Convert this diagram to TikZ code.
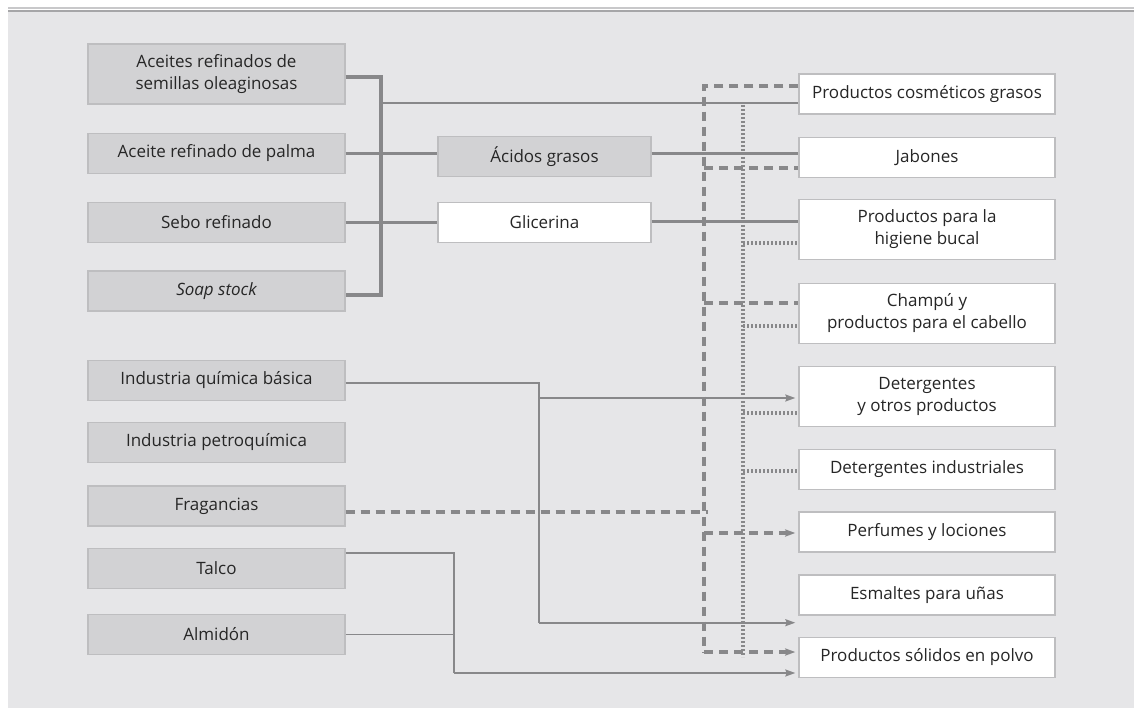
\documentclass[tikz,border=0pt]{standalone}
\usepackage{fontspec}
\setmainfont{Open Sans}
\usetikzlibrary{arrows.meta}
\definecolor{panel}{HTML}{E6E6E8}
\definecolor{boxgray}{HTML}{D2D2D4}
\definecolor{boxline}{HTML}{BEBEC0}
\definecolor{wire}{HTML}{88888A}
\definecolor{ink}{HTML}{262626}
\definecolor{rulelight}{HTML}{C8C8CA}
\definecolor{ruledark}{HTML}{A6A6A8}
\tikzset{
  base/.style={draw=boxline, line width=1.4pt, minimum width=257pt, minimum height=40pt,
    inner sep=0pt, align=center, text=ink, font=\fontsize{17}{22}\selectfont},
  srcbox/.style={base, fill=boxgray},
  midbox/.style={base, minimum width=213pt},
  dstbox/.style={base, fill=white, minimum width=256pt},
  twoline/.style={minimum height=60pt},
  heavy/.style={draw=wire, line width=3.6pt},
  feed/.style={draw=wire, line width=2.6pt},
  thin/.style={draw=wire, line width=1.8pt},
  dashline/.style={draw=wire, line width=3.2pt, dash pattern=on 9pt off 6pt},
  dotline/.style={draw=wire, line width=3.4pt, dash pattern=on 2.2pt off 1.8pt},
  tip/.style={-{Stealth[length=10pt,width=7pt,inset=1.5pt]}, shorten >=3pt},
}
\begin{document}
\begin{tikzpicture}[x=1pt,y=-1pt]
\useasboundingbox (0,0) rectangle (1134,708);
% panel and top rules
\fill[panel] (8,12.5) rectangle (1134,708);
\draw[rulelight, line width=1.5pt] (8,8) -- (1134,8);
\draw[ruledark, line width=2.4pt] (8,11) -- (1134,11);

% raw materials
\node[srcbox, twoline] (L1) at (216.5,74) {Aceites refinados de\\semillas oleaginosas};
\node[srcbox] (L2) at (216.5,153.5) {Aceite refinado de palma};
\node[srcbox] (L3) at (216.5,222.5) {Sebo refinado};
\node[srcbox] (L4) at (216.5,291) {\itshape Soap stock};
\node[srcbox] (L5) at (216.5,380.5) {Industria química básica};
\node[srcbox] (L6) at (216.5,442.5) {Industria petroquímica};
\node[srcbox] (L7) at (216.5,506) {Fragancias};
\node[srcbox] (L8) at (216.5,568.5) {Talco};
\node[srcbox] (L9) at (216.5,634.5) {Almidón};

% intermediates
\node[midbox, fill=boxgray] (Ac) at (544.5,156.5) {Ácidos grasos};
\node[midbox, fill=white] (Gl) at (544.5,222.5) {Glicerina};

% products
\node[dstbox] (R1) at (927,94) {Productos cosméticos grasos};
\node[dstbox] (R2) at (927,157.5) {Jabones};
\node[dstbox, twoline] (R3) at (927,229.5) {Productos para la\\higiene bucal};
\node[dstbox, twoline] (R4) at (927,313.5) {Champú y\\productos para el cabello};
\node[dstbox, twoline] (R5) at (927,396.5) {Detergentes\\y otros productos};
\node[dstbox] (R6) at (927,469.5) {Detergentes industriales};
\node[dstbox] (R7) at (927,532) {Perfumes y lociones};
\node[dstbox] (R8) at (927,595) {Esmaltes para uñas};
\node[dstbox] (R9) at (927,657.5) {Productos sólidos en polvo};

% junction points
\coordinate (busT) at (381,77);
\coordinate (busB) at (381,295);
\coordinate (dashT) at (704,86);
\coordinate (dashB) at (704,652);
\coordinate (dotT) at (743,105);
\coordinate (dotB) at (743,657);
\coordinate (chemX) at (539,383);
\coordinate (powX) at (454,553);

% fats and oils
\draw[heavy] ([yshift=-3pt]L1.east) -- (busT) -- (busB) -- ([yshift=-4pt]L4.east);
\draw[feed] (L2.east) -- (L2.east -| busT);
\draw[feed] (L3.east) -- (L3.east -| busT);
\draw[feed] ([yshift=-9pt]R1.west -| busT) -- ([yshift=-9pt]R1.west);
\draw[feed] (L2.east -| busT) -- (L2.east -| Ac.west);
\draw[feed] (L2.east -| Ac.east) -- (L2.east -| R2.west);
\draw[feed] (L3.east -| busT) -- (Gl.west);
\draw[feed] ([yshift=1pt]Gl.east) -- ([yshift=1pt]Gl.east -| R3.west);

% dashed distribution
\draw[dashline] (dashT -| R1.west) -- (dashT) -- (dashB);
\draw[dashline] ([yshift=-10.5pt]R2.west -| dashT) -- ([yshift=-10.5pt]R2.west);
\draw[dashline] ([yshift=10.5pt]R4.west -| dashT) -- ([yshift=10.5pt]R4.west);
\draw[dashline] ([yshift=-6pt]L7.east) -- ([yshift=-6pt,xshift=4pt]L7.east -| dashT);
\draw[dashline, tip] ([yshift=-1pt]R7.west -| dashT) -- ([yshift=-1pt]R7.west);
\draw[dashline, tip] (dashB) -- (dashB -| R9.west);

% dotted distribution
\draw[dotline] (dotT) -- (dotB);
\draw[dotline] ([yshift=-13.5pt]R3.west -| dotT) -- ([yshift=-13.5pt]R3.west);
\draw[dotline] ([yshift=-12.5pt]R4.west -| dotT) -- ([yshift=-12.5pt]R4.west);
\draw[dotline] ([yshift=-16.5pt]R5.west -| dotT) -- ([yshift=-16.5pt]R5.west);
\draw[dotline] ([yshift=-1.5pt]R6.west -| dotT) -- ([yshift=-1.5pt]R6.west);

% basic chemistry
\draw[thin] ([yshift=-2.5pt]L5.east) -- (chemX) -- ([yshift=-7pt]R8.south west -| chemX);
\draw[thin, tip] ([yshift=-7pt]R8.south west -| chemX) -- ([yshift=-7pt]R8.south west);
\draw[thin, tip] ([yshift=-1.5pt]R5.west -| chemX) -- ([yshift=-1.5pt]R5.west);

% talc and starch
\draw[thin] ([yshift=15.5pt]L8.east) -- (powX) -- ([yshift=-15.5pt]R9.west -| powX);
\draw[thin] (L9.east) -- (L9.east -| powX);
\draw[thin, tip] ([yshift=-15.5pt]R9.west -| powX) -- ([yshift=-15.5pt]R9.west);
\end{tikzpicture}
\end{document}
